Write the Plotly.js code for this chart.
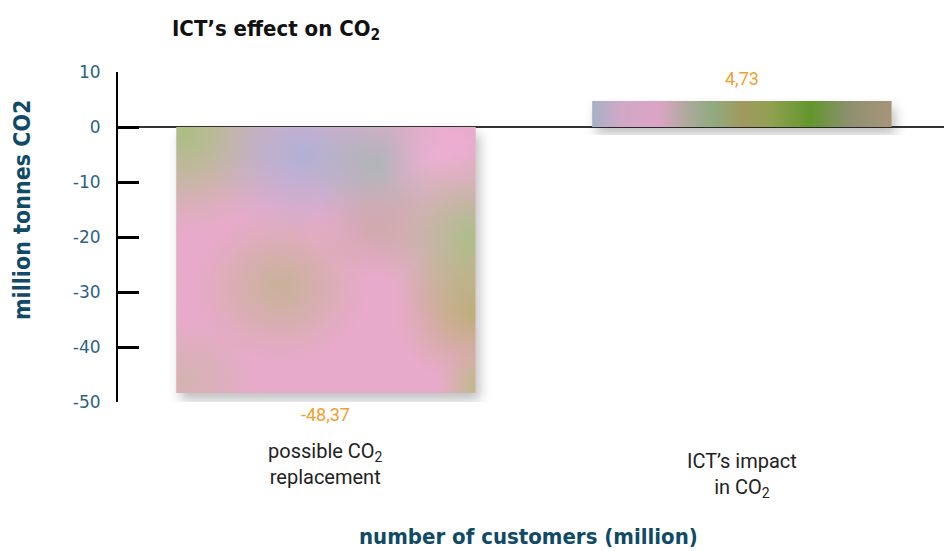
<!DOCTYPE html>
<html>
<head>
<meta charset="utf-8">
<script src="https://cdn.plot.ly/plotly-3.0.1.min.js"></script>
<style>
html,body{margin:0;padding:0;background:#fff;}
#chart{width:944px;height:551px;}
</style>
</head>
<body>
<div id="chart"></div>
<script>
// ---- data ----
const categories = ["possible CO<sub>2</sub><br>replacement", "ICT’s impact<br>in CO<sub>2</sub>"];
const categoryKeys = ["replacement", "impact"];
const values = [-48.37, 4.73];
const yTickValues = [10, 0, -10, -20, -30, -40, -50];
const yTickLabels = ["10", "0", "-10", "-20", "-30", "-40", "-50"];
const barBaseColors = ["#e3abc6", "#a8a070"];

const tealDark = "#0f4a66";
const tealTick = "#2d6384";
const orange = "#f0a030";
const condensed = "Liberation Sans Narrow, DejaVu Sans Condensed, DejaVu Sans";

const valueAnnotations = values.map((v, i) => ({
  x: categoryKeys[i], y: v, xref: "x", yref: "y",
  text: v.toFixed(2).replace(".", ","),
  showarrow: false,
  yanchor: v < 0 ? "top" : "bottom",
  yshift: v < 0 ? -9 : 10,
  font: {family: "Roboto, DejaVu Sans", size: 18, color: orange}
}));

const catAnnotations = categoryKeys.map((k, i) => ({
  x: k, xref: "x", yref: "paper",
  y: i === 0 ? -0.105 : -0.135,
  yanchor: "top",
  text: categories[i],
  showarrow: false,
  align: "center",
  font: {family: "Roboto, DejaVu Sans", size: 20, color: "#222"}
}));

const trace = {
  type: "bar",
  x: categoryKeys,
  y: values,
  width: 0.72,
  marker: {color: barBaseColors, line: {width: 0}},
  hoverinfo: "none"
};

const layout = {
  width: 944, height: 551,
  margin: {l: 118, r: 0, t: 72, b: 149},
  paper_bgcolor: "#ffffff",
  plot_bgcolor: "#ffffff",
  showlegend: false,
  title: {
    text: "ICT’s effect on CO<sub>2</sub>",
    x: 172/944, xanchor: "left", xref: "container",
    y: 1 - 28/551, yanchor: "middle", yref: "container",
    font: {family: condensed, size: 22, color: "#111", weight: "bold"}
  },
  xaxis: {
    type: "category",
    range: [-0.5, 1.486],
    showticklabels: false,
    showline: false, showgrid: false, zeroline: false, ticks: ""
  },
  yaxis: {
    range: [-50, 10],
    tickvals: yTickValues,
    ticktext: yTickLabels,
    showline: true, linecolor: "#000", linewidth: 2,
    ticks: "inside", ticklen: 21, tickwidth: 3, tickcolor: "#000",
    ticklabelstandoff: 12,
    tickfont: {family: "DejaVu Sans", size: 17, color: tealTick},
    showgrid: false,
    zeroline: true, zerolinecolor: "#333", zerolinewidth: 1.5
  },
  annotations: [
    ...valueAnnotations,
    ...catAnnotations,
    {
      text: "million tonnes CO2", xref: "paper", yref: "paper",
      x: -96/826, y: 1 - (210-72)/330, textangle: -90,
      xanchor: "center", yanchor: "middle", showarrow: false,
      font: {family: condensed, size: 23, color: tealDark, weight: "bold"}
    },
    {
      text: "number of customers (million)", xref: "paper", yref: "paper",
      x: (528-118)/826, y: -(536-402)/330,
      xanchor: "center", yanchor: "middle", showarrow: false, borderpad: 0,
      font: {family: condensed, size: 22, color: tealDark, weight: "bold"}
    }
  ]
};

Plotly.newPlot("chart", [trace], layout, {displayModeBar: false, staticPlot: true}).then(gd => {
  const NS = "http://www.w3.org/2000/svg";
  const svg = gd.querySelector("svg.main-svg");
  const defs = document.createElementNS(NS, "defs");
  svg.insertBefore(defs, svg.firstChild);
  function el(tag, attrs, parent) {
    const e = document.createElementNS(NS, tag);
    for (const k in attrs) e.setAttribute(k, attrs[k]);
    if (parent) parent.appendChild(e);
    return e;
  }
  const f = el("filter", {id: "shadow", x: "-10%", y: "-10%", width: "130%", height: "140%"}, defs);
  el("feDropShadow", {dx: 4, dy: 7, stdDeviation: 6, "flood-color": "#000", "flood-opacity": 0.25}, f);
  const blobs = [
    ["#a6c07e", 0.02, 0.02, 0.38, 0.95],
    ["#a7b2d6", 0.42, 0.1, 0.32, 0.85],
    ["#9eb8b0", 0.68, 0.14, 0.25, 0.75],
    ["#efb0d6", 0.88, 0.12, 0.2, 0.8],
    ["#a4c080", 1.0, 0.42, 0.34, 0.9],
    ["#b4b678", 0.35, 0.6, 0.3, 0.6],
    ["#b0b060", 1.0, 0.7, 0.28, 0.75],
    ["#c8b8a0", 0.04, 0.95, 0.25, 0.6],
    ["#b8a890", 0.66, 0.38, 0.2, 0.5],
    ["#b0c070", 1.02, 0.98, 0.15, 0.8]
  ];
  blobs.forEach((b, i) => {
    const g = el("radialGradient", {id: "blob" + i}, defs);
    el("stop", {offset: "0", "stop-color": b[0], "stop-opacity": b[4]}, g);
    el("stop", {offset: "0.4", "stop-color": b[0], "stop-opacity": b[4] * 0.6}, g);
    el("stop", {offset: "0.75", "stop-color": b[0], "stop-opacity": b[4] * 0.2}, g);
    el("stop", {offset: "1", "stop-color": b[0], "stop-opacity": 0}, g);
  });
  const pat = el("pattern", {id: "tex1", patternUnits: "objectBoundingBox", patternContentUnits: "objectBoundingBox", width: 1, height: 1}, defs);
  el("rect", {x: 0, y: 0, width: 1, height: 1, fill: "#e8aacb"}, pat);
  blobs.forEach((b, i) => {
    el("ellipse", {cx: b[1], cy: b[2], rx: b[3], ry: b[3], fill: "url(#blob" + i + ")"}, pat);
  });
  const lg = el("linearGradient", {id: "tex2", x1: 0, y1: 0, x2: 1, y2: 0}, defs);
  [[0, "#a8b0c8"], [0.1, "#d0a8c6"], [0.22, "#dca4c6"], [0.33, "#a8aa98"], [0.4, "#90aa80"],
   [0.5, "#a09a60"], [0.6, "#90a050"], [0.73, "#62962c"], [0.86, "#8e9070"], [1, "#a89478"]]
    .forEach(s => el("stop", {offset: s[0], "stop-color": s[1]}, lg));
  const paths = gd.querySelectorAll(".bars .point path");
  const fills = ["url(#tex1)", "url(#tex2)"];
  paths.forEach((p, i) => {
    p.style.fill = fills[i];
    p.setAttribute("filter", "url(#shadow)");
  });
});
</script>
</body>
</html>
